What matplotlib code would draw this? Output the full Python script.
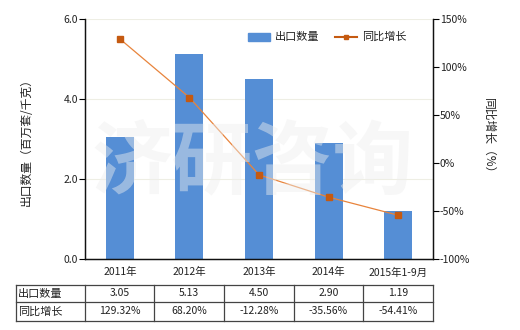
import matplotlib
matplotlib.use("Agg")
import matplotlib.pyplot as plt
from matplotlib.lines import Line2D
from matplotlib.patches import Rectangle

plt.rcParams['font.family'] = ['Noto Sans CJK SC', 'DejaVu Sans']

categories = ["2011年", "2012年", "2013年", "2014年", "2015年1-9月"]
export_qty = [3.05, 5.13, 4.50, 2.90, 1.19]
yoy_growth = [129.32, 68.20, -12.28, -35.56, -54.41]
qty_labels = ["3.05", "5.13", "4.50", "2.90", "1.19"]
yoy_labels = ["129.32%", "68.20%", "-12.28%", "-35.56%", "-54.41%"]
left_ticks = [0.0, 2.0, 4.0, 6.0]
right_ticks = [-100, -50, 0, 50, 100, 150]

W, H = 520, 330
fig = plt.figure(figsize=(W / 100, H / 100), dpi=100)
L, R, T, B = 85, 433, 19, 259
ax = fig.add_axes([L / W, 1 - B / H, (R - L) / W, (B - T) / H])
ax2 = ax.twinx()

bar_color = "#558ED5"
line_color = "#E8843C"
marker_color = "#C55A11"
text_color = "#222222"
fs = 7.5

x = list(range(len(categories)))
ax.bar(x, export_qty, width=0.40, color=bar_color, zorder=2, label="出口数量")
ax.set_xlim(-0.5, len(categories) - 0.5)
ax.set_ylim(0, 6)
ax.set_yticks(left_ticks)
ax.set_yticklabels([f"{v:.1f}" for v in left_ticks], fontsize=fs, color=text_color)
ax.set_xticks(x)
ax.set_xticklabels(categories, fontsize=fs, color=text_color)
ax.tick_params(axis='x', length=0, pad=6)
ax.tick_params(axis='y', length=4, width=0.8, pad=1)
ax.grid(axis='y', color="#EEEEE4", linewidth=0.8, zorder=0)
ax.set_axisbelow(True)

ax2.plot(x, yoy_growth, color=line_color, linewidth=0.9, marker='s', markersize=4,
         markerfacecolor=marker_color, markeredgecolor=marker_color, zorder=5)
ax2.set_ylim(-100, 150)
ax2.set_yticks(right_ticks)
ax2.set_yticklabels([f"{v}%" for v in right_ticks], fontsize=fs, color=text_color)
ax2.tick_params(axis='y', length=4, width=0.8, pad=1)

for a in (ax, ax2):
    a.spines['top'].set_visible(False)
    for s in ('left', 'right', 'bottom'):
        a.spines[s].set_linewidth(0.9)
        a.spines[s].set_color("#111111")

ax.set_ylabel("出口数量（百万套/千克）", fontsize=8.5, color=text_color, labelpad=22)
ax2.set_ylabel("同比增长（%）", fontsize=8.5, color=text_color, rotation=270, labelpad=18)

# watermark
fig.text(0.485, 0.5, "济研咨询", fontsize=58, color="#EEEEEE", alpha=0.45,
         ha='center', va='center', fontweight='bold', zorder=10)

# legend
fig.patches.append(Rectangle((248 / W, 1 - 41 / H), 22 / W, 8 / H,
                             transform=fig.transFigure, color=bar_color))
fig.text(275 / W, 1 - 37 / H, "出口数量", fontsize=8, va='center', color=text_color)
fig.lines.append(Line2D([335 / W, 357 / W], [1 - 37 / H, 1 - 37 / H],
                        transform=fig.transFigure, color=marker_color, linewidth=1.5))
fig.lines.append(Line2D([346 / W], [1 - 37 / H], transform=fig.transFigure,
                        marker='s', markersize=3.5, color=marker_color, linewidth=0))
fig.text(362 / W, 1 - 37 / H, "同比增长", fontsize=8, va='center', color=text_color)

# data table
tl, tr = 16, 433
rows_y = [285, 302, 321]
col_x = [16, 85, 154, 224, 294, 363, 433]
lc = "#444444"
for yy in rows_y:
    fig.lines.append(Line2D([tl / W, tr / W], [1 - yy / H, 1 - yy / H],
                            transform=fig.transFigure, color=lc, linewidth=0.9))
for xx in col_x:
    fig.lines.append(Line2D([xx / W, xx / W], [1 - rows_y[0] / H, 1 - rows_y[-1] / H],
                            transform=fig.transFigure, color=lc, linewidth=0.9))
row_titles = ["出口数量", "同比增长"]
row_vals = [qty_labels, yoy_labels]
for r in range(2):
    yc = 1 - (rows_y[r] + rows_y[r + 1]) / 2 / H
    fig.text(18 / W, yc, row_titles[r], fontsize=8, va='center', ha='left', color=text_color)
    for c in range(len(categories)):
        xc = (col_x[c + 1] + col_x[c + 2]) / 2 / W
        fig.text(xc, yc, row_vals[r][c], fontsize=7.5, va='center', ha='center', color=text_color)

fig.savefig("out.png", dpi=100)
